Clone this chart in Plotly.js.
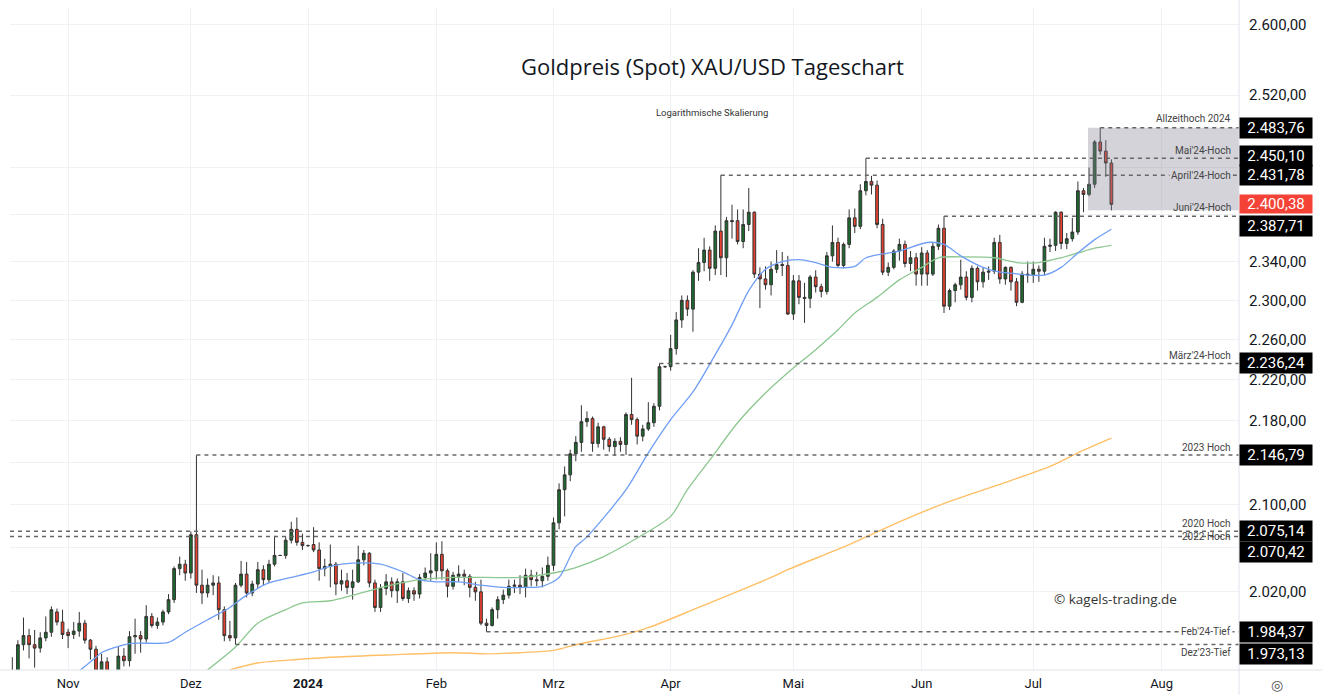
<!DOCTYPE html>
<html><head><meta charset="utf-8">
<script src="https://cdn.plot.ly/plotly-3.0.1.min.js"></script>
<style>html,body{margin:0;padding:0;background:#fff;overflow:hidden}#chart{width:1322px;height:695px}</style>
</head><body><div id="chart"></div>
<script>
// ---------------- DATA ----------------
const dates = [
 '2023-10-18','2023-10-19','2023-10-20','2023-10-23','2023-10-24','2023-10-25','2023-10-26','2023-10-27','2023-10-30','2023-10-31',
 '2023-11-01','2023-11-02','2023-11-03','2023-11-06','2023-11-07','2023-11-08','2023-11-09','2023-11-10','2023-11-13','2023-11-14','2023-11-15','2023-11-16','2023-11-17','2023-11-20','2023-11-21','2023-11-22','2023-11-23','2023-11-24','2023-11-27','2023-11-28','2023-11-29','2023-11-30',
 '2023-12-01','2023-12-04','2023-12-05','2023-12-06','2023-12-07','2023-12-08','2023-12-11','2023-12-12','2023-12-13','2023-12-14','2023-12-15','2023-12-18','2023-12-19','2023-12-20','2023-12-21','2023-12-22','2023-12-25','2023-12-26','2023-12-27','2023-12-28','2023-12-29',
 '2024-01-01','2024-01-02','2024-01-03','2024-01-04','2024-01-05','2024-01-08','2024-01-09','2024-01-10','2024-01-11','2024-01-12','2024-01-15','2024-01-16','2024-01-17','2024-01-18','2024-01-19','2024-01-22','2024-01-23','2024-01-24','2024-01-25','2024-01-26','2024-01-29','2024-01-30','2024-01-31',
 '2024-02-01','2024-02-02','2024-02-05','2024-02-06','2024-02-07','2024-02-08','2024-02-09','2024-02-12','2024-02-13','2024-02-14','2024-02-15','2024-02-16','2024-02-19','2024-02-20','2024-02-21','2024-02-22','2024-02-23','2024-02-26','2024-02-27','2024-02-28','2024-02-29',
 '2024-03-01','2024-03-04','2024-03-05','2024-03-06','2024-03-07','2024-03-08','2024-03-11','2024-03-12','2024-03-13','2024-03-14','2024-03-15','2024-03-18','2024-03-19','2024-03-20','2024-03-21','2024-03-22','2024-03-25','2024-03-26','2024-03-27','2024-03-28','2024-03-29',
 '2024-04-01','2024-04-02','2024-04-03','2024-04-04','2024-04-05','2024-04-08','2024-04-09','2024-04-10','2024-04-11','2024-04-12','2024-04-15','2024-04-16','2024-04-17','2024-04-18','2024-04-19','2024-04-22','2024-04-23','2024-04-24','2024-04-25','2024-04-26','2024-04-29','2024-04-30',
 '2024-05-01','2024-05-02','2024-05-03','2024-05-06','2024-05-07','2024-05-08','2024-05-09','2024-05-10','2024-05-13','2024-05-14','2024-05-15','2024-05-16','2024-05-17','2024-05-20','2024-05-21','2024-05-22','2024-05-23','2024-05-24','2024-05-27','2024-05-28','2024-05-29','2024-05-30','2024-05-31',
 '2024-06-03','2024-06-04','2024-06-05','2024-06-06','2024-06-07','2024-06-10','2024-06-11','2024-06-12','2024-06-13','2024-06-14','2024-06-17','2024-06-18','2024-06-19','2024-06-20','2024-06-21','2024-06-24','2024-06-25','2024-06-26','2024-06-27','2024-06-28',
 '2024-07-01','2024-07-02','2024-07-03','2024-07-04','2024-07-05','2024-07-08','2024-07-09','2024-07-10','2024-07-11','2024-07-12','2024-07-15','2024-07-16','2024-07-17','2024-07-18','2024-07-19'
];
const open = [
 1923,1947,1973,1981,1973,1970,1979,1984,2002,1993,
 1984,1982,1985,1992,1977,1969,1950,1958,1940,1946,1963,1959,1980,1981,1978,1998,1990,1993,2002,2013,2041,2045,
 2037,2072,2026,2019,2026,2028,2004,1981,1979,2026,2036,2019,2027,2040,2031,2045,2053,2053,2067,2077,2065,
 2062,2063,2058,2041,2043,2045,2027,2030,2024,2029,2049,2055,2028,2006,2023,2029,2021,2029,2014,2021,2018,2033,2037,
 2039,2054,2039,2025,2034,2036,2034,2024,2020,1992,1990,2004,2013,2017,2025,2026,2024,2035,2031,2030,2034,
 2044,2083,2114,2128,2148,2159,2179,2182,2158,2174,2162,2155,2160,2157,2186,2181,2165,2172,2178,2194,2233,
 2233,2251,2280,2300,2291,2329,2339,2352,2333,2372,2344,2382,2383,2361,2379,2392,2327,2322,2316,2332,2337,2336,
 2286,2320,2303,2302,2324,2314,2309,2346,2360,2336,2358,2386,2377,2415,2425,2421,2379,2329,2334,2351,2358,2338,2344,
 2327,2349,2327,2356,2375,2294,2310,2316,2324,2303,2333,2319,2329,2330,2360,2322,2334,2319,2298,2327,
 2326,2332,2330,2356,2357,2392,2359,2364,2371,2415,2411,2422,2468,2458,2445
];
const high = [
 1962,1977,1997,1987,1986,1984,1998,2007,2005,2004,
 1987,1993,2002,1995,1978,1972,1965,1962,1949,1971,1970,1985,1996,1985,2008,2001,1997,2004,2018,2043,2052,2049,
 2075,2146.79,2040,2032,2035,2034,2007,1994,2028,2048,2047,2030,2047,2044,2049,2071,2053,2070,2084,2088,2073,
 2063,2079,2065,2050,2063,2047,2040,2037,2040,2062,2058,2056,2031,2027,2036,2033,2032,2037,2024,2024,2036,2042,2055,
 2065,2066,2041,2038,2044,2040,2036,2029,2031,1996,2006,2016,2022,2031,2031,2035,2041,2040,2038,2042,2052,
 2088,2120,2136,2152,2165,2195,2189,2184,2178,2175,2164,2163,2164,2188,2222,2183,2176,2198,2197,2236.24,2234,
 2265,2288,2305,2305,2331,2354,2365,2356,2378,2431.78,2387,2400,2395,2395,2418,2393,2334,2335,2340,2352,2350,2346,
 2326,2326,2318,2326,2331,2317,2350,2378,2365,2360,2395,2396,2422,2450.10,2431,2426,2385,2339,2353,2364,2362,2351,2349,
 2355,2352,2360,2379,2387.71,2312,2318,2342,2330,2336,2335,2334,2335,2365,2368,2335,2335,2323,2330,2340,
 2340,2336,2365,2364,2393,2393,2370,2386,2425,2418,2440,2470,2483.76,2470,2449
];
const low = [
 1922,1942,1968,1961,1953,1966,1976,1980,1990,1978,
 1970,1978,1980,1974,1960,1945,1944,1932,1931,1944,1954,1954,1965,1966,1975,1988,1987,1990,2000,2010,2035,2030,
 2032,2019,2009,2015,2017,1995,1976,1976,1973.13,2024,2015,2016,2023,2026,2028,2043,2053,2050,2064,2062,2058,
 2061,2056,2030,2034,2024,2017,2021,2018,2013,2028,2044,2024,2002,2002,2017,2015,2010,2012,2010,2012,2014,2030,2030,
 2031,2031,2015,2022,2029,2026,2015,2012,1990,1984.37,1989,1996,2009,2014,2019,2018,2015,2025,2025,2024,2030,
 2039,2077,2089,2122,2141,2150,2174,2150,2154,2152,2150,2146,2150,2147,2176,2157,2160,2170,2174,2190,2232,
 2229,2245,2272,2284,2268,2320,2330,2320,2326,2326,2324,2364,2358,2354,2372,2323,2292,2311,2305,2328,2325,2285,
 2280,2296,2277,2292,2308,2303,2306,2340,2334,2333,2354,2370,2374,2410,2411,2375,2326,2325,2332,2341,2334,2330,2315,
 2315,2315,2325,2352,2287,2290,2298,2311,2300,2298,2310,2313,2321,2327,2317,2316,2310,2294,2297,2318,
 2318,2319,2326,2350,2351,2353,2353,2361,2368,2392,2409,2418,2454,2430,2394
];
const close = [
 1947,1973,1981,1973,1970,1979,1984,2004,1993,1982,
 1981,1985,1992,1977,1969,1950,1958,1940,1946,1963,1959,1980,1981,1978,1998,1990,1993,2002,2013,2041,2045,2037,
 2072,2026,2019,2026,2028,2004,1981,1979,2026,2036,2019,2027,2040,2031,2045,2053,2053,2067,2077,2065,2062,
 2062,2058,2041,2043,2045,2027,2030,2024,2029,2049,2055,2028,2006,2023,2029,2021,2029,2014,2021,2018,2033,2037,2039,
 2054,2039,2025,2035,2036,2034,2024,2020,1992,1990,2004,2013,2017,2025,2026,2024,2035,2031,2030,2034,2044,
 2083,2114,2128,2148,2159,2179,2182,2158,2174,2162,2155,2160,2157,2186,2181,2165,2172,2178,2194,2233,2233,
 2251,2280,2300,2291,2329,2339,2352,2333,2372,2344,2383,2383,2361,2379,2392,2327,2322,2316,2332,2337,2336,2286,
 2320,2303,2302,2324,2314,2309,2346,2360,2336,2358,2386,2377,2415,2425,2421,2379,2329,2334,2351,2358,2338,2344,2327,
 2349,2327,2356,2375,2294,2310,2316,2324,2303,2333,2319,2329,2330,2360,2322,2334,2319,2298,2327,2326,
 2332,2330,2356,2357,2392,2359,2364,2371,2415,2411,2422,2468,2458,2445,2400.38
];

// moving averages
const maShortDates = ['2023-11-03','2023-11-08','2023-11-09','2023-11-16','2023-11-27','2023-11-30','2023-12-06','2023-12-12','2023-12-15','2023-12-21','2023-12-27','2024-01-02','2024-01-05','2024-01-11','2024-01-18','2024-01-24','2024-01-29','2024-02-01','2024-02-07','2024-02-13','2024-02-19','2024-02-23','2024-02-28','2024-03-04','2024-03-06','2024-03-07','2024-03-11','2024-03-20','2024-03-26','2024-04-01','2024-04-05','2024-04-11','2024-04-16','2024-04-19','2024-04-24','2024-04-29','2024-05-02','2024-05-07','2024-05-10','2024-05-16','2024-05-20','2024-05-23','2024-05-28','2024-06-04','2024-06-07','2024-06-12','2024-06-18','2024-06-21','2024-06-25','2024-06-28','2024-07-03','2024-07-08','2024-07-11','2024-07-16','2024-07-19'];
const maShort = [1950,1962,1966,1974,1975,1984,1995,2006,2017,2028,2033,2038,2043,2046,2045,2038,2031,2029,2029,2026,2024,2024,2025,2033,2052,2061,2070,2114,2149,2181,2208,2245,2275,2310,2332,2340,2342,2339,2334,2335,2344,2348,2351,2360,2358,2346,2334,2329,2328,2326,2326,2334,2349,2363,2374];
const maMidDates = ['2023-12-06','2023-12-13','2023-12-19','2023-12-26','2023-12-29','2024-01-05','2024-01-11','2024-01-19','2024-01-29','2024-02-06','2024-02-14','2024-02-22','2024-03-01','2024-03-07','2024-03-14','2024-03-22','2024-04-01','2024-04-04','2024-04-10','2024-04-17','2024-04-24','2024-04-30','2024-05-07','2024-05-13','2024-05-16','2024-05-22','2024-05-28','2024-06-03','2024-06-06','2024-06-12','2024-06-20','2024-06-26','2024-07-02','2024-07-08','2024-07-11','2024-07-16','2024-07-19'];
const maMid = [1951,1971,1992,2004,2010,2012,2017,2025,2031,2033,2033,2033,2037,2042,2052,2069,2089,2114,2142,2178,2207,2227,2250,2270,2287,2303,2321,2334,2344,2345,2344,2339,2339,2344,2349,2354,2357];
const maLongDates = ['2023-12-12','2023-12-19','2023-12-28','2024-01-05','2024-01-19','2024-02-06','2024-02-14','2024-02-22','2024-03-01','2024-03-07','2024-03-19','2024-03-26','2024-04-08','2024-04-25','2024-04-30','2024-05-15','2024-05-28','2024-06-10','2024-06-21','2024-07-04','2024-07-11','2024-07-19'];
const maLong = [1951,1957,1960,1962,1964,1966,1965,1966,1968,1973,1981,1988,2006,2033,2040,2063,2084,2103,2119,2136,2149,2163];

// marked price levels
const levelValues = [2483.76, 2450.10, 2431.78, 2387.71, 2236.24, 2146.79, 2075.14, 2070.42, 1984.37, 1973.13];
const levelNames  = ['Allzeithoch 2024', "Mai'24-Hoch", "April'24-Hoch", "Juni'24-Hoch", "März'24-Hoch", '2023 Hoch', '2020 Hoch', '2022 Hoch', "Feb'24-Tief", "Dez'23-Tief"];
const levelStart  = ['2024-07-17', '2024-05-20', '2024-04-12', '2024-06-07', '2024-03-28', '2023-12-04', null, null, '2024-02-14', '2023-12-13'];
const lastPrice = 2400.38;
const boxLow = 2394;           // lower edge of the shaded box (Jul 19 low)

// axis ticks
const monthTicks  = ['2023-11-01','2023-12-01','2024-01-01','2024-02-01','2024-03-01','2024-04-01','2024-05-01','2024-06-03','2024-07-01','2024-08-01'];
const monthLabels = ['Nov','Dez','<b>2024</b>','Feb','Mrz','Apr','Mai','Jun','Jul','Aug'];
const priceTicks  = [2020, 2060, 2100, 2140, 2180, 2220, 2260, 2300, 2340, 2390, 2440, 2520, 2600];
const priceLabels = ['2.020,00','','2.100,00','','2.180,00','2.220,00','2.260,00','2.300,00','2.340,00','','','2.520,00','2.600,00'];

// ---------------- STYLE / LAYOUT ----------------
const X0 = '2023-10-17 14:00', X1 = '2024-08-20 21:00';
const Y_MIN = 1950.9, Y_MAX = 2620.9;
const lg = Math.log10;
const fmtDE = v => { const p = v.toFixed(2).split('.'); return p[0].replace(/\B(?=(\d{3})+(?!\d))/g, '.') + ',' + p[1]; };

const labelShift = [9, 8, 0, 9, 8, 8, 8, 0, 0, -8];
const labelBg    = [null, null, 'rgba(212,212,218,1)', null, null, null, null, null, '#ffffff', null];
const boxShift   = [0, 2, 0, -10, 0, 0, 0, -16, 0, -9];

const FONT = 'Roboto, "Open Sans", "DejaVu Sans", sans-serif';
const PL = 10, PR = 83, PT = 7, PB = 25, W = 1322, H = 695;
const PW = W - PL - PR, PH = H - PT - PB;
const px2paperX = px => (px - PL) / PW;
const px2paperY = py => (H - PB - py) / PH;
const BOX_LEFT_PX = 1088;      // left edge of shaded box

const traces = [
  { type: 'scatter', mode: 'lines', x: maLongDates, y: maLong, line: { color: '#ffbf66', width: 1.4, shape: 'spline', smoothing: 0.8 }, hoverinfo: 'skip' },
  { type: 'scatter', mode: 'lines', x: maMidDates, y: maMid, line: { color: '#8cc78f', width: 1.3, shape: 'spline', smoothing: 0.8 }, hoverinfo: 'skip' },
  { type: 'scatter', mode: 'lines', x: maShortDates, y: maShort, line: { color: '#6f9ef5', width: 1.3, shape: 'spline', smoothing: 0.8 }, hoverinfo: 'skip' },
  { type: 'candlestick', x: dates, open: open, high: high, low: low, close: close,
    increasing: { line: { color: '#333333', width: 1 }, fillcolor: '#1d6b2f' },
    decreasing: { line: { color: '#333333', width: 1 }, fillcolor: '#e8402f' },
    whiskerwidth: 0, hoverinfo: 'skip' }
];

// NOTE: in this Plotly version shape coordinates on a log axis are given as data values
const shapes = [];
shapes.push({ type: 'rect', xref: 'paper', yref: 'y', x0: px2paperX(BOX_LEFT_PX), x1: 1, y0: boxLow, y1: levelValues[0],
  fillcolor: 'rgb(130,130,145)', opacity: 0.35, line: { width: 0 }, layer: 'above' });
levelValues.forEach((v, i) => {
  shapes.push({ type: 'line', xref: 'x', yref: 'y', x0: levelStart[i] || X0, x1: X1, y0: v, y1: v,
    line: { color: '#666666', width: 1.5, dash: '4px,4px' } });
});
// pane borders
shapes.push({ type: 'line', xref: 'paper', yref: 'paper', x0: 1, x1: 1, y0: -PB / PH, y1: 1 + PT / PH, line: { color: '#e0e3eb', width: 1 } });
shapes.push({ type: 'line', xref: 'paper', yref: 'paper', x0: -PL / PW, x1: 1 + PR / PW, y0: 0, y1: 0, line: { color: '#e0e3eb', width: 1 } });

const annotations = [];
annotations.push({ xref: 'paper', yref: 'paper', x: px2paperX(712), y: px2paperY(66), text: 'Goldpreis (Spot) XAU/USD Tageschart',
  showarrow: false, xanchor: 'center', yanchor: 'middle', font: { family: '"Open Sans", Roboto, sans-serif', size: 22, color: '#131722' } });
annotations.push({ xref: 'paper', yref: 'paper', x: px2paperX(712), y: px2paperY(112), text: 'Logarithmische Skalierung',
  showarrow: false, xanchor: 'center', yanchor: 'middle', font: { family: FONT, size: 9.5, color: '#333' } });
annotations.push({ xref: 'paper', yref: 'paper', x: px2paperX(1115), y: px2paperY(599), text: '© kagels-trading.de',
  showarrow: false, xanchor: 'center', yanchor: 'middle', font: { family: '"Open Sans", Roboto, sans-serif', size: 13.5, color: '#333' } });
annotations.push({ xref: 'paper', yref: 'paper', x: px2paperX(1277), y: px2paperY(685), text: '◎',
  showarrow: false, xanchor: 'center', yanchor: 'middle', font: { family: '"DejaVu Sans", sans-serif', size: 14, color: '#555' } });

// annotations on a log axis take log10 positions
levelValues.forEach((v, i) => {
  const a = { xref: 'paper', yref: 'y', x: px2paperX(1233), y: lg(v), yshift: labelShift[i], text: levelNames[i],
    showarrow: false, xanchor: 'right', yanchor: 'middle', font: { family: FONT, size: 10, color: '#444' } };
  if (labelBg[i]) { a.bgcolor = labelBg[i]; a.borderpad = 1; }
  annotations.push(a);
  annotations.push({ xref: 'paper', yref: 'y', x: 1, y: lg(v), yshift: boxShift[i], text: fmtDE(v),
    showarrow: false, xanchor: 'left', yanchor: 'middle', bgcolor: '#000000', borderpad: 1, width: 70, height: 18,
    align: 'center', font: { family: FONT, size: 15, color: '#ffffff' } });
});
annotations.push({ xref: 'paper', yref: 'y', x: 1, y: lg(lastPrice), text: fmtDE(lastPrice),
  showarrow: false, xanchor: 'left', yanchor: 'middle', bgcolor: '#f44336', borderpad: 1, width: 70, height: 16,
  align: 'center', font: { family: FONT, size: 15, color: '#ffffff' } });

const layout = {
  width: W, height: H,
  margin: { l: PL, r: PR, t: PT, b: PB, pad: 0 },
  paper_bgcolor: '#ffffff', plot_bgcolor: '#ffffff',
  showlegend: false, hovermode: false, separators: ',.',
  font: { family: FONT, color: '#131722' },
  xaxis: {
    type: 'date', range: [X0, X1], rangebreaks: [{ bounds: ['sat', 'mon'] }],
    rangeslider: { visible: false },
    tickmode: 'array', tickvals: monthTicks, ticktext: monthLabels,
    showgrid: true, gridcolor: '#f0f1f4', gridwidth: 1, zeroline: false, showline: false,
    ticks: '', tickfont: { family: FONT, size: 13, color: '#131722' }, ticklabelstandoff: 4, fixedrange: true
  },
  yaxis: {
    type: 'log', side: 'right', range: [lg(Y_MIN), lg(Y_MAX)],
    tickmode: 'array', tickvals: priceTicks, ticktext: priceLabels,
    showgrid: true, gridcolor: '#f0f1f4', gridwidth: 1, zeroline: false, showline: false,
    ticks: '', tickfont: { family: FONT, size: 15, color: '#131722' }, ticklabelstandoff: 9, fixedrange: true
  },
  shapes: shapes, annotations: annotations
};

Plotly.newPlot('chart', traces, layout, { displayModeBar: false, staticPlot: true });
</script></body></html>
